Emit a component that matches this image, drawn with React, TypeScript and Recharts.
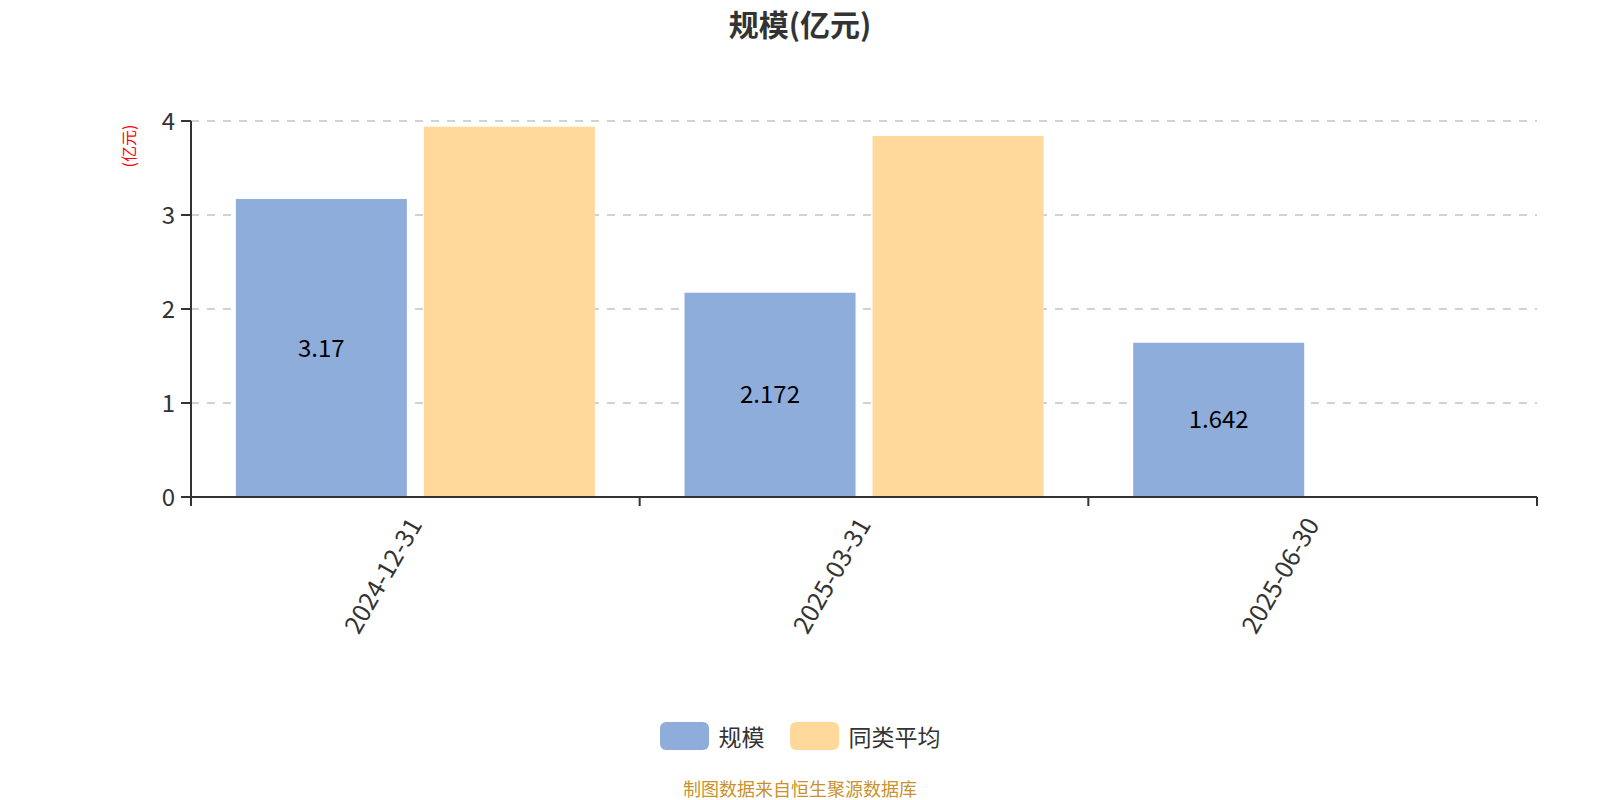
import React from 'react';
import { BarChart, Bar, XAxis, YAxis, CartesianGrid, LabelList } from 'recharts';

const categories = ['2024-12-31', '2025-03-31', '2025-06-30'];
const scaleValues = [3.17, 2.172, 1.642];
const peerAverage: (number | null)[] = [3.94, 3.84, null];
const yTicks = [0, 1, 2, 3, 4];
const boundaryTicks = [0, 1, 2, 3];
const seriesNames = ['规模', '同类平均'];
const seriesColors = ['#8FADDB', '#FFD99B'];
const titleText = '规模(亿元)';
const unitText = '(亿元)';
const footerText = '制图数据来自恒生聚源数据库';

const data = categories.map((c, i) => ({
  date: c,
  slot: i + 0.5,
  scale: scaleValues[i],
  avg: peerAverage[i],
}));

const FONT = '"Noto Sans CJK SC", "Noto Sans", sans-serif';

const RotTick = (props: any) => {
  const { x, y, payload } = props;
  return (
    <g transform={`translate(${x + 0},${y + 14}) rotate(-60)`}>
      <text x={0} y={0} dy="0.35em" textAnchor="end" fontSize={25} fill="#333" fontFamily={FONT}>
        {payload.value}
      </text>
    </g>
  );
};

export default function App() {
  return (
    <div style={{ position: 'absolute', left: 0, top: 0, width: 1600, height: 800, background: '#fff', fontFamily: FONT }}>
      <div style={{ position: 'absolute', left: 0, top: 3, width: 1600, textAlign: 'center', fontSize: 30, fontWeight: 'bold', color: '#333', lineHeight: '40px' }}>
        {titleText}
      </div>
      <div style={{ position: 'absolute', left: 128 - 40, top: 146 - 10, width: 80, height: 20, lineHeight: '20px', textAlign: 'center', fontSize: 16, color: '#ff0000', transform: 'rotate(-90deg)' }}>
        {unitText}
      </div>
      <BarChart
        width={1600}
        height={800}
        data={data}
        margin={{ top: 121, right: 63, left: 131, bottom: 162 }}
        barCategoryGap="10%"
        barGap={17}
      >
        <CartesianGrid xAxisId="b" vertical={false} stroke="#c4c4c4" strokeWidth={1.5} strokeDasharray="8 8" />
        <XAxis
          xAxisId="a"
          dataKey="slot"
          type="number"
          domain={[0, 3]}
          ticks={boundaryTicks}
          interval={0}
          allowDataOverflow
          height={1}
          tickFormatter={() => ''}
          tickSize={9}
          axisLine={{ stroke: '#333', strokeWidth: 2 }}
          tickLine={{ stroke: '#333', strokeWidth: 2 }}
        />
        <XAxis
          xAxisId="b"
          dataKey="date"
          type="category"
          height={140}
          axisLine={false}
          tickLine={false}
          interval={0}
          tick={<RotTick />}
        />
        <YAxis
          domain={[0, 4]}
          ticks={yTicks}
          width={60}
          tickSize={10}
          tickMargin={6}
          axisLine={{ stroke: '#333', strokeWidth: 2 }}
          tickLine={{ stroke: '#333', strokeWidth: 2 }}
          tick={{ fontSize: 24, fill: '#333', fontFamily: FONT }}
        />
        <Bar xAxisId="b" dataKey="scale" name={seriesNames[0]} fill={seriesColors[0]} isAnimationActive={false}>
          <LabelList dataKey="scale" position="center" fontSize={24} fill="#000" fontFamily={FONT} />
        </Bar>
        <Bar xAxisId="b" dataKey="avg" name={seriesNames[1]} fill={seriesColors[1]} isAnimationActive={false} />
      </BarChart>
      <div style={{ position: 'absolute', left: 0, top: 736 - 16, width: 1600, height: 32, display: 'flex', justifyContent: 'center', alignItems: 'center' }}>
        {seriesNames.map((n, i) => (
          <div key={n} style={{ display: 'flex', alignItems: 'center', marginLeft: i === 0 ? 0 : 25 }}>
            <div style={{ width: 49, height: 28, borderRadius: 6, background: seriesColors[i] }} />
            <span style={{ marginLeft: 10, fontSize: 23, color: '#333' }}>{n}</span>
          </div>
        ))}
      </div>
      <div style={{ position: 'absolute', left: 0, top: 788 - 12, width: 1600, textAlign: 'center', fontSize: 18, color: '#C9922E', lineHeight: '24px' }}>
        {footerText}
      </div>
    </div>
  );
}
